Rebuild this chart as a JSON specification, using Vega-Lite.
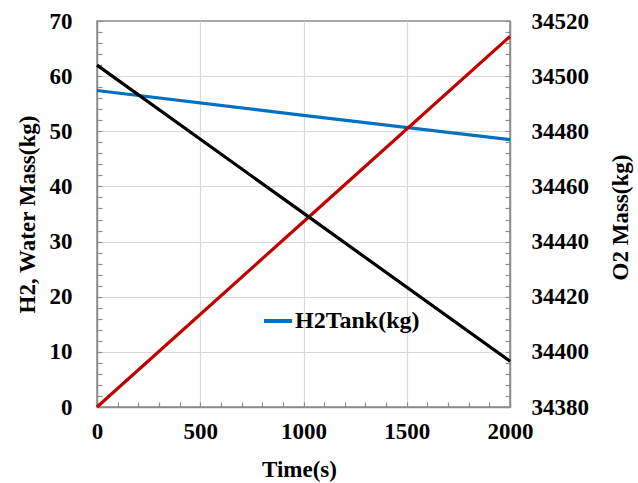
{
  "$schema": "https://vega.github.io/schema/vega-lite/v6.json",
  "autosize": {"type": "none"},
  "width": 413,
  "height": 386,
  "padding": {"left": 97, "top": 21, "right": 128, "bottom": 76},
  "background": "white",
  "config": {
    "view": {"stroke": "#8c8c8c", "strokeWidth": 1.5},
    "font": "Liberation Serif",
    "axis": {
      "labelFont": "Liberation Serif",
      "labelFontWeight": "bold",
      "labelFontSize": 23,
      "labelColor": "#000000",
      "titleFont": "Liberation Serif",
      "titleFontWeight": "bold",
      "titleFontSize": 23,
      "titleColor": "#000000",
      "domainColor": "#8c8c8c",
      "domainWidth": 1.5,
      "tickColor": "#8c8c8c",
      "tickWidth": 1.2,
      "tickSize": -5,
      "labelOverlap": false,
      "labelBound": false,
      "labelFlush": false,
      "format": "d"
    },
    "legend": {
      "labelFont": "Liberation Serif",
      "labelFontWeight": "bold",
      "labelFontSize": 24,
      "labelColor": "#000000",
      "padding": 0
    }
  },
  "data": {
    "values": [
      {"time": 0, "h2tank": 57.4, "water": 0.0, "o2": 34504.0},
      {"time": 1000, "h2tank": 52.9, "water": 33.6, "o2": 34450.3},
      {"time": 2000, "h2tank": 48.5, "water": 67.2, "o2": 34396.6}
    ]
  },
  "encoding": {
    "x": {
      "field": "time",
      "type": "quantitative",
      "scale": {"domain": [0, 2000], "nice": false},
      "axis": {
        "title": "Time(s)",
        "values": [0, 100, 200, 300, 400, 500, 600, 700, 800, 900, 1000, 1100, 1200, 1300, 1400, 1500, 1600, 1700, 1800, 1900, 2000],
        "labelExpr": "datum.value % 500 === 0 ? datum.label : ''",
        "labelPadding": 18,
        "grid": true,
        "gridColor": "#d9d9d9",
        "gridWidth": 1.2,
        "gridOpacity": {"condition": {"test": "datum.value % 500 === 0 && datum.value > 0 && datum.value < 2000", "value": 1}, "value": 0},
        "titleX": 202,
        "titleY": 62,
        "titleBaseline": "middle"
      }
    }
  },
  "layer": [
    {
      "mark": {"type": "line", "strokeWidth": 3.2},
      "encoding": {
        "y": {
          "field": "h2tank",
          "type": "quantitative",
          "scale": {"domain": [0, 70], "nice": false, "zero": false},
          "axis": {
            "orient": "left",
            "title": "H2, Water Mass(kg)",
            "values": [0, 2, 4, 6, 8, 10, 12, 14, 16, 18, 20, 22, 24, 26, 28, 30, 32, 34, 36, 38, 40, 42, 44, 46, 48, 50, 52, 54, 56, 58, 60, 62, 64, 66, 68, 70],
            "labelExpr": "datum.value % 10 === 0 ? datum.label : ''",
            "labelPadding": 30,
            "grid": true,
            "gridColor": "#d9d9d9",
            "gridWidth": 1.2,
            "gridOpacity": {"condition": {"test": "datum.value % 10 === 0 && datum.value > 0 && datum.value < 70", "value": 1}, "value": 0},
            "titleAngle": -90,
            "titleX": -70,
            "titleY": 193,
            "titleBaseline": "middle",
            "titleAlign": "center"
          }
        },
        "color": {
          "datum": "H2Tank(kg)",
          "type": "nominal",
          "scale": {"domain": ["H2Tank(kg)"], "range": ["#0070c0"]},
          "legend": {
            "title": null,
            "orient": "none",
            "legendX": 165,
            "legendY": 284,
            "symbolType": "stroke",
            "symbolSize": 784,
            "symbolStrokeWidth": 4,
            "labelOffset": 1
          }
        }
      }
    },
    {
      "mark": {"type": "line", "strokeWidth": 3.2, "color": "#c00000"},
      "encoding": {
        "y": {
          "field": "water",
          "type": "quantitative",
          "scale": {"domain": [0, 70], "nice": false, "zero": false},
          "axis": null
        }
      }
    },
    {
      "mark": {"type": "line", "strokeWidth": 3.2, "color": "#000000"},
      "encoding": {
        "y": {
          "field": "o2",
          "type": "quantitative",
          "scale": {"domain": [34380, 34520], "nice": false, "zero": false},
          "axis": {
            "orient": "right",
            "title": "O2 Mass(kg)",
            "values": [34380, 34384, 34388, 34392, 34396, 34400, 34404, 34408, 34412, 34416, 34420, 34424, 34428, 34432, 34436, 34440, 34444, 34448, 34452, 34456, 34460, 34464, 34468, 34472, 34476, 34480, 34484, 34488, 34492, 34496, 34500, 34504, 34508, 34512, 34516, 34520],
            "labelExpr": "datum.value % 20 === 0 ? datum.label : ''",
            "labelPadding": 26,
            "grid": false,
            "titleAngle": -90,
            "titleX": 110,
            "titleY": 196,
            "titleBaseline": "middle",
            "titleAlign": "center"
          }
        }
      }
    }
  ],
  "resolve": {"scale": {"y": "independent"}, "axis": {"y": "independent"}}
}
